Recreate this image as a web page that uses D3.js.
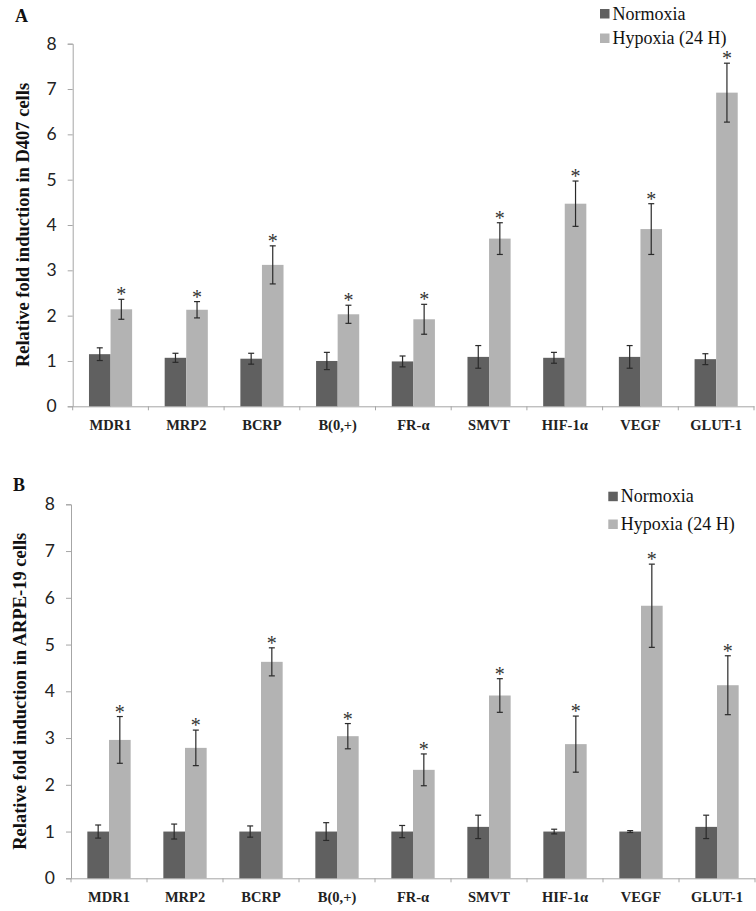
<!DOCTYPE html>
<html>
<head>
<meta charset="utf-8">
<script src="https://cdn.jsdelivr.net/npm/d3@7"></script>
<style>
  html, body { margin: 0; padding: 0; background: #fff; }
  svg { display: block; }
</style>
</head>
<body>
<svg id="chart" width="756" height="911"></svg>
<script>
const categories = ["MDR1", "MRP2", "BCRP", "B(0,+)", "FR-\u03b1", "SMVT", "HIF-1\u03b1", "VEGF", "GLUT-1"];
const seriesNames = ["Normoxia", "Hypoxia (24 H)"];
const yTicks = [0, 1, 2, 3, 4, 5, 6, 7, 8];

// Panel A: D407 cells
const aNormoxia = [1.15, 1.07, 1.05, 1.00, 0.99, 1.09, 1.07, 1.09, 1.04];
const aNormoxiaErr = [0.14, 0.10, 0.12, 0.19, 0.12, 0.25, 0.12, 0.25, 0.12];
const aHypoxia = [2.14, 2.13, 3.12, 2.03, 1.92, 3.70, 4.47, 3.91, 6.92];
const aHypoxiaErr = [0.22, 0.18, 0.42, 0.20, 0.33, 0.35, 0.50, 0.56, 0.65];

// Panel B: ARPE-19 cells
const bNormoxia = [1.00, 1.00, 1.00, 1.00, 1.00, 1.10, 1.00, 1.00, 1.10];
const bNormoxiaErr = [0.14, 0.16, 0.12, 0.19, 0.13, 0.25, 0.05, 0.02, 0.25];
const bHypoxia = [2.96, 2.79, 4.63, 3.04, 2.32, 3.91, 2.87, 5.83, 4.13];
const bHypoxiaErr = [0.50, 0.38, 0.30, 0.27, 0.34, 0.36, 0.60, 0.89, 0.63];

const colors = ["#606060", "#b3b3b3"];
const svg = d3.select("#chart");

function drawPanel(cfg) {
  const g = svg.append("g");
  const x = d3.scaleBand().domain(categories)
    .range([cfg.x0, cfg.x1]).paddingInner(0.43).paddingOuter(0.215);
  const xs = d3.scaleBand().domain(seriesNames).range([0, x.bandwidth()]).padding(0);
  const y = d3.scaleLinear().domain([0, 8]).range([cfg.yBottom, cfg.yTop]);
  const step = x.step();

  // Y axis
  const yAxis = g.append("g")
    .attr("transform", `translate(${cfg.x0},0)`)
    .call(d3.axisLeft(y).tickValues(yTicks).tickSize(5).tickPadding(11).tickFormat(d3.format("d")));
  yAxis.select(".domain").attr("stroke", "#a6a6a6");
  yAxis.selectAll(".tick line").attr("stroke", "#a6a6a6");
  yAxis.selectAll(".tick text")
    .attr("font-family", "Lato, 'Open Sans', sans-serif")
    .attr("font-size", 17.5).attr("fill", "#222");

  // X axis with boundary ticks
  const xAxis = g.append("g")
    .attr("transform", `translate(0,${cfg.yBottom})`)
    .call(d3.axisBottom(x).tickSize(0).tickPadding(13));
  xAxis.select(".domain").attr("stroke", "#a6a6a6");
  xAxis.selectAll(".tick text")
    .attr("font-family", "'Liberation Serif', 'Times New Roman', serif")
    .attr("font-weight", "bold").attr("font-size", 14.5).attr("fill", "#222");
  const bounds = d3.range(categories.length + 1).map(i => cfg.x0 + i * step);
  g.append("g").selectAll("line").data(bounds).join("line")
    .attr("x1", d => d).attr("x2", d => d)
    .attr("y1", cfg.yBottom).attr("y2", cfg.yBottom + 4)
    .attr("stroke", "#a6a6a6");

  const series = [
    { name: seriesNames[0], vals: cfg.n, errs: cfg.ne, color: colors[0], star: false },
    { name: seriesNames[1], vals: cfg.h, errs: cfg.he, color: colors[1], star: true }
  ];
  series.forEach(s => {
    const data = categories.map((c, i) => ({ c, v: s.vals[i], e: s.errs[i] }));
    const sg = g.append("g");
    sg.selectAll("rect").data(data).join("rect")
      .attr("x", d => x(d.c) + xs(s.name))
      .attr("width", xs.bandwidth())
      .attr("y", d => y(d.v))
      .attr("height", d => y(0) - y(d.v))
      .attr("fill", s.color);
    const eg = sg.selectAll("g.err").data(data).join("g").attr("class", "err");
    const cx = d => x(d.c) + xs(s.name) + xs.bandwidth() / 2;
    eg.append("line")
      .attr("x1", cx).attr("x2", cx)
      .attr("y1", d => y(d.v + d.e)).attr("y2", d => y(d.v - d.e))
      .attr("stroke", "#2a2a2a").attr("stroke-width", 1.2);
    eg.append("line")
      .attr("x1", d => cx(d) - 3).attr("x2", d => cx(d) + 3)
      .attr("y1", d => y(d.v + d.e)).attr("y2", d => y(d.v + d.e))
      .attr("stroke", "#2a2a2a").attr("stroke-width", 1.2);
    eg.append("line")
      .attr("x1", d => cx(d) - 3).attr("x2", d => cx(d) + 3)
      .attr("y1", d => y(d.v - d.e)).attr("y2", d => y(d.v - d.e))
      .attr("stroke", "#2a2a2a").attr("stroke-width", 1.2);
    if (s.star) {
      sg.selectAll("text.star").data(data).join("text").attr("class", "star")
        .attr("x", cx).attr("y", d => y(d.v + d.e) + 2)
        .attr("text-anchor", "middle")
        .attr("font-family", "'Liberation Serif', 'Times New Roman', serif")
        .attr("font-size", 20).attr("fill", "#333")
        .text("*");
    }
  });

  // Y title
  g.append("text")
    .attr("transform", `translate(${cfg.titleX},${(cfg.yTop + cfg.yBottom) / 2}) rotate(-90)`)
    .attr("text-anchor", "middle")
    .attr("font-family", "'Liberation Serif', 'Times New Roman', serif")
    .attr("font-weight", "bold").attr("font-size", 18.5).attr("fill", "#111")
    .text(cfg.title);

  // Panel letter
  g.append("text")
    .attr("x", cfg.letterX).attr("y", cfg.letterY)
    .attr("font-family", "'Liberation Serif', 'Times New Roman', serif")
    .attr("font-weight", "bold").attr("font-size", 18).attr("fill", "#111")
    .text(cfg.letter);

  // Legend
  const lg = g.append("g").attr("transform", `translate(${cfg.legX},${cfg.legY})`);
  seriesNames.forEach((nm, i) => {
    lg.append("rect").attr("x", 0).attr("y", i * cfg.legGap).attr("width", 9.5).attr("height", 9.5)
      .attr("fill", colors[i]);
    lg.append("text").attr("x", 12.5).attr("y", i * cfg.legGap + 10.5)
      .attr("font-family", "'Liberation Serif', 'Times New Roman', serif")
      .attr("font-size", 18).attr("fill", "#111")
      .text(nm);
  });
}

drawPanel({
  x0: 72.7, x1: 754, yTop: 43.7, yBottom: 406.3,
  n: aNormoxia, ne: aNormoxiaErr, h: aHypoxia, he: aHypoxiaErr,
  title: "Relative fold induction in D407 cells", titleX: 29,
  letter: "A", letterX: 15, letterY: 22,
  legX: 600, legY: 9, legGap: 24.5
});
drawPanel({
  x0: 71, x1: 755, yTop: 504.3, yBottom: 878.3,
  n: bNormoxia, ne: bNormoxiaErr, h: bHypoxia, he: bHypoxiaErr,
  title: "Relative fold induction in ARPE-19 cells", titleX: 26,
  letter: "B", letterX: 13, letterY: 491,
  legX: 608.3, legY: 491.7, legGap: 27.8
});
</script>
</body>
</html>
